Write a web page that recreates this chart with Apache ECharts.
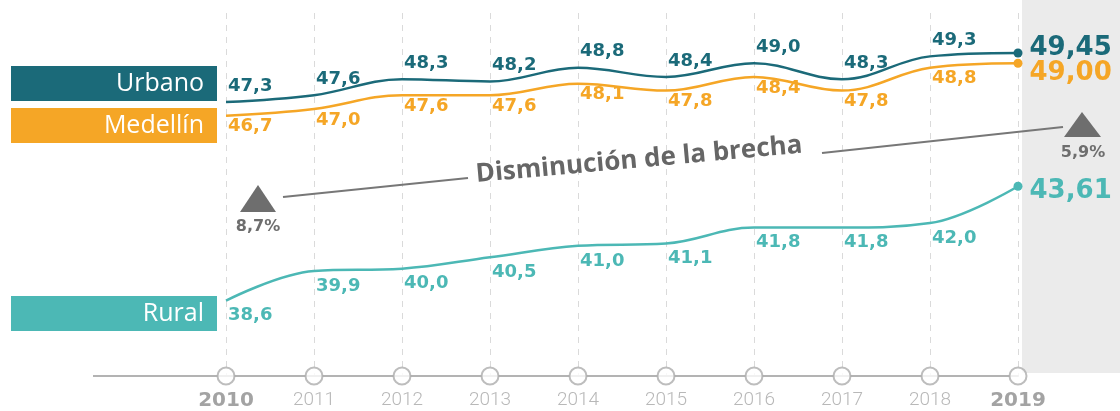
<!DOCTYPE html>
<html>
<head>
<meta charset="utf-8">
<script src="https://cdn.jsdelivr.net/npm/echarts@6/dist/echarts.min.js"></script>
<style>
html,body{margin:0;padding:0;background:#fff;}
#c{width:1120px;height:411px;}
</style>
</head>
<body>
<div id="c"></div>
<script>
// ---- data ----
const years = [2010, 2011, 2012, 2013, 2014, 2015, 2016, 2017, 2018, 2019];
const seriesNames = ['Urbano', 'Medellín', 'Rural'];
const urbano   = [47.3, 47.6, 48.3, 48.2, 48.8, 48.4, 49.0, 48.3, 49.3, 49.45];
const medellin = [46.7, 47.0, 47.6, 47.6, 48.1, 47.8, 48.4, 47.8, 48.8, 49.00];
const rural    = [38.6, 39.9, 40.0, 40.5, 41.0, 41.1, 41.8, 41.8, 42.0, 43.61];
const gapLabels = ['8,7%', '5,9%'];
const annotationText = 'Disminución de la brecha';

// ---- styles ----
const C_URB = '#1b6a79';
const C_MED = '#f5a626';
const C_RUR = '#4cb8b5';
const C_GRAY = '#6e6e6e';
const NUMFONT = 'DejaVu Sans';
const Y_MIN = 35.3, Y_MAX = 51.2;

function fmt(v, d) { return v.toFixed(d).replace('.', ','); }

function buildData(vals, color, finalOffset) {
  return vals.map((v, i) => {
    const item = { value: [years[i], v] };
    if (i === vals.length - 1) {
      item.label = {
        position: 'right', distance: 7, align: 'left', verticalAlign: 'middle',
        fontSize: 26, fontWeight: 'bold', fontFamily: NUMFONT, color: color,
        offset: finalOffset,
        formatter: p => fmt(p.value[1], 2)
      };
    }
    return item;
  });
}

function lineSeries(name, vals, color, pos, dist, finalOffset) {
  return {
    type: 'line', name: name, smooth: 0.38,
    data: buildData(vals, color, finalOffset),
    showSymbol: true, symbol: 'circle',
    symbolSize: (val, p) => (p.dataIndex === vals.length - 1 ? 9 : 0),
    itemStyle: { color: color },
    lineStyle: { color: color, width: 2.5 },
    label: {
      show: true, position: pos, distance: dist, align: 'left', offset: [2, 0],
      color: color, fontFamily: NUMFONT, fontWeight: 'bold', fontSize: 18,
      formatter: p => fmt(p.value[1], 1)
    },
    z: 5, clip: false, animation: false
  };
}

const chart = echarts.init(document.getElementById('c'), null, { renderer: 'canvas' });

chart.setOption({
  animation: false,
  grid: { left: 226, right: 102, top: 13, bottom: 35 },
  xAxis: {
    type: 'value', min: 2010, max: 2019, interval: 1,
    axisLine: { show: true, onZero: false, lineStyle: { color: '#b3b3b3', width: 2 } },
    axisTick: { show: false },
    splitLine: { show: true, lineStyle: { color: '#dadada', width: 1, type: [6, 6] } },
    axisLabel: {
      margin: 15,
      formatter: v => (v === years[0] || v === years[years.length - 1]) ? '{b|' + v + '}' : '{n|' + v + '}',
      rich: {
        b: { fontFamily: NUMFONT, fontWeight: 'bold', fontSize: 20, color: '#a3a3a3' },
        n: { fontFamily: 'Roboto', fontWeight: 300, fontSize: 19, color: '#b8b8b8' }
      }
    }
  },
  yAxis: { type: 'value', min: Y_MIN, max: Y_MAX, show: false, splitLine: { show: false } },
  series: [
    lineSeries(seriesNames[0], urbano, C_URB, 'top', 7, [0, -5]),
    lineSeries(seriesNames[1], medellin, C_MED, 'bottom', 2, [0, 10]),
    lineSeries(seriesNames[2], rural, C_RUR, 'bottom', 6, [0, 5]),
    {
      type: 'scatter', data: years.map(y => [y, Y_MIN]), symbol: 'circle', symbolSize: 17,
      itemStyle: { color: '#ffffff', borderColor: '#acacac', borderWidth: 2 },
      clip: false, z: 6, silent: true
    }
  ]
});

// decorations positioned from the axes
const p0 = chart.convertToPixel({ gridIndex: 0 }, [years[0], Y_MIN]);
const p9 = chart.convertToPixel({ gridIndex: 0 }, [years[years.length - 1], Y_MIN]);
const axisY = p0[1];

function legendBox(top, color, text) {
  return {
    type: 'group', left: 11, top: top, z: 10,
    children: [
      { type: 'rect', shape: { x: 0, y: 0, width: 206, height: 35 }, style: { fill: color } },
      { type: 'text', style: { text: text, x: 193, y: 18, align: 'right', verticalAlign: 'middle',
        fill: '#ffffff', font: '400 25px "Open Sans"' } }
    ]
  };
}

chart.setOption({
  graphic: [
    { type: 'rect', z: -10, shape: { x: p9[0] + 4, y: 0, width: 1120 - p9[0] - 4, height: axisY - 3 },
      style: { fill: '#ebebeb' } },
    { type: 'line', z: 1, shape: { x1: 93, y1: axisY, x2: p0[0], y2: axisY },
      style: { stroke: '#b3b3b3', lineWidth: 2 } },
    legendBox(66, C_URB, seriesNames[0]),
    legendBox(108, C_MED, seriesNames[1]),
    legendBox(296, C_RUR, seriesNames[2]),
    // gap annotation
    { type: 'polygon', z: 10, shape: { points: [[258, 185], [240, 212], [276, 212]] }, style: { fill: C_GRAY } },
    { type: 'polygon', z: 10, shape: { points: [[1082, 112], [1064, 137], [1101, 137]] }, style: { fill: C_GRAY } },
    { type: 'text', z: 10, style: { text: gapLabels[0], x: 258, y: 227, align: 'center', verticalAlign: 'middle',
      fill: C_GRAY, font: 'bold 16px "DejaVu Sans"' } },
    { type: 'text', z: 10, style: { text: gapLabels[1], x: 1083, y: 153, align: 'center', verticalAlign: 'middle',
      fill: C_GRAY, font: 'bold 16px "DejaVu Sans"' } },
    { type: 'line', z: 10, shape: { x1: 283, y1: 197, x2: 468, y2: 178 }, style: { stroke: '#777', lineWidth: 2 } },
    { type: 'line', z: 10, shape: { x1: 822, y1: 153, x2: 1063, y2: 127 }, style: { stroke: '#777', lineWidth: 2 } },
    { type: 'text', z: 10, x: 639, y: 160, rotation: 0.09,
      style: { text: annotationText, x: 0, y: 0, align: 'center', verticalAlign: 'middle',
        fill: '#666666', font: 'bold 26px "Open Sans"' } }
  ]
});
</script>
</body>
</html>
